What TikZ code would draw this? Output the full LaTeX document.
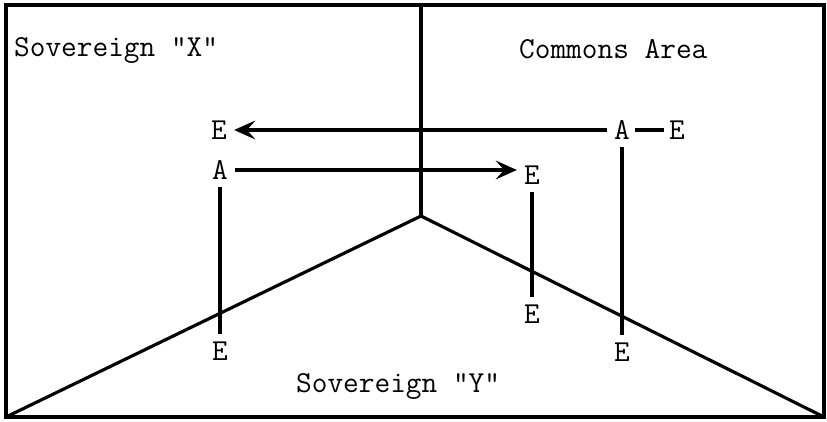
\documentclass[tikz,border=0pt]{standalone}
\usetikzlibrary{positioning,arrows.meta}

\begin{document}
\begin{tikzpicture}[
        x=0.03cm, y=-0.03cm,
        every node/.style={font=\fontsize{26}{30}\selectfont\ttfamily},
        lbl/.style={inner sep=6pt},
        edge/.style={line width=2.7pt},
        arrow/.style={edge, -{Stealth[length=18pt, width=16pt, inset=7pt]}}
    ]
        \useasboundingbox (0,0) rectangle (827,422);

        % Frame and the three zones
        \coordinate (tl) at (6,5);
        \coordinate (bl) at (6,417);
        \coordinate (br) at (824,417);
        \coordinate (top) at (421,5);
        \coordinate (hub) at (421,216);
        \draw[edge] (tl) rectangle (br);
        \draw[edge] (top) -- (hub);
        \draw[edge] (bl) -- (hub) -- (br);

        % Zone names
        \node[anchor=base west] (sovx) at (10,57) {Sovereign "X"};
        \node[anchor=base west] (commons) at (515,59) {Commons Area};
        \node[anchor=base west] (sovy) at (292,392) {Sovereign "Y"};

        % Letters
        \node[lbl] (e1) at (219,130) {E};
        \node[lbl] (a1) at (220,170) {A};
        \node[lbl] (e2) at (532,175) {E};
        \node[lbl] (a2) at (622,130) {A};
        \node[lbl] (e3) at (677,130) {E};
        \node[lbl] (e4) at (220,351) {E};
        \node[lbl] (e5) at (532,314) {E};
        \node[lbl] (e6) at (622,352) {E};

        \draw[arrow] (a2) -- (e1);
        \draw[arrow] (a1) -- (a1 -| e2.west);
        \draw[edge, shorten <=-2pt, shorten >=-2pt] (a2) -- (e3);
        \draw[edge] (a1) -- (e4);
        \draw[edge] (e2) -- (e5);
        \draw[edge] (a2) -- (e6);
    \end{tikzpicture}
\end{document}
